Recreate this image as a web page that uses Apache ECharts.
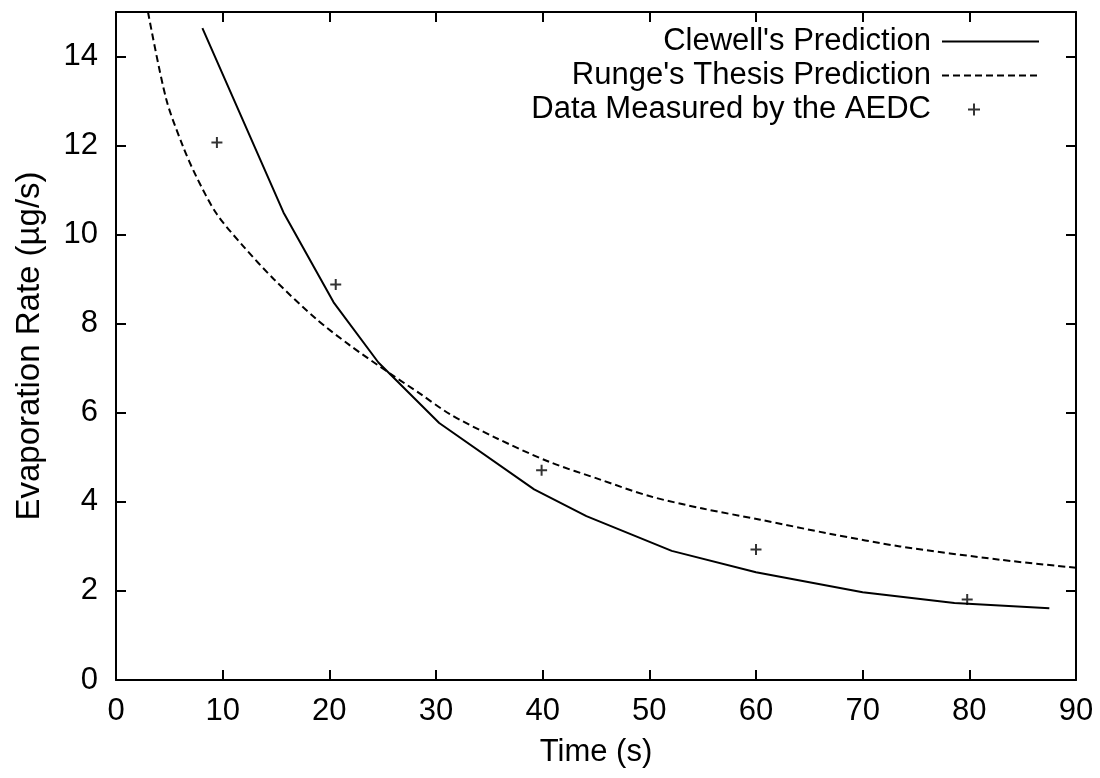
<!DOCTYPE html>
<html>
<head>
<meta charset="utf-8">
<script src="https://cdn.jsdelivr.net/npm/echarts@6/dist/echarts.min.js"></script>
<style>
html,body{margin:0;padding:0;background:#fff;}
#chart{width:1100px;height:778px;}
</style>
</head>
<body>
<div id="chart"></div>
<script>
// ---- data ----
const clewellName = "Clewell's Prediction";
const rungeName = "Runge's Thesis Prediction";
const aedcName = "Data Measured by the AEDC";

const clewellT = [8.1, 15.7, 20.4, 24.6, 30.3, 39.2, 44.1, 52.1, 60.0, 70.0, 78.6, 87.5];
const clewellRate = [14.64, 10.5, 8.48, 7.13, 5.77, 4.28, 3.68, 2.9, 2.42, 1.97, 1.73, 1.61];

const rungeT = [3.0, 4.7, 6.25, 7.5, 9.4, 11.9, 14.8, 18.8, 21.9, 25.7, 28.5, 31.3, 35.5, 40.6, 45.4, 50.0, 55.0, 60.4, 67.0, 73.5, 82.9, 90.0];
const rungeRate = [15.0, 13.05, 12.0, 11.32, 10.48, 9.75, 9.0, 8.1, 7.52, 6.88, 6.43, 5.97, 5.45, 4.9, 4.5, 4.13, 3.85, 3.6, 3.28, 3.0, 2.7, 2.52];

const aedcT = [9.46, 20.6, 39.9, 60.0, 79.8];
const aedcRate = [12.07, 8.88, 4.71, 2.93, 1.81];

const xTicks = {min: 0, max: 90, interval: 10};
const yTicks = {min: 0, max: 15, interval: 2};

// ---- chart ----
const zip = (a, b) => a.map((v, i) => [v, b[i]]);
const FONT = 'Liberation Sans, Arial, Helvetica, sans-serif';
const plusPath = 'path://M0,5L10,5M5,0L5,10';

const chart = echarts.init(document.getElementById('chart'), null, {renderer: 'canvas'});

const axisCommon = {
  axisLine: {show: true, onZero: false, lineStyle: {color: '#000', width: 2}},
  axisTick: {show: true, inside: true, length: 10, lineStyle: {color: '#000', width: 2}},
  splitLine: {show: false}
};

const legendBase = {
  orient: 'horizontal',
  align: 'right',
  padding: 0,
  itemGap: 0,
  selectedMode: false,
  textStyle: {fontFamily: FONT, fontSize: 31, color: '#000'}
};

chart.setOption({
  animation: false,
  backgroundColor: '#fff',
  grid: {left: 116, right: 24, top: 12, bottom: 98, containLabel: false},
  legend: [
    Object.assign({}, legendBase, {
      data: [clewellName], right: 60, top: 26, itemWidth: 97, itemHeight: 24,
      itemStyle: {color: 'rgba(0,0,0,0)', borderWidth: 0},
      textStyle: Object.assign({}, legendBase.textStyle, {padding: [0, 6, 0, 0]})
    }),
    Object.assign({}, legendBase, {
      data: [rungeName], right: 60, top: 60, itemWidth: 97, itemHeight: 24,
      itemStyle: {color: 'rgba(0,0,0,0)', borderWidth: 0},
      textStyle: Object.assign({}, legendBase.textStyle, {padding: [0, 6, 0, 0]})
    }),
    Object.assign({}, legendBase, {
      data: [{name: aedcName, icon: plusPath}], right: 119, top: 94, itemWidth: 12, itemHeight: 24,
      textStyle: Object.assign({}, legendBase.textStyle, {padding: [0, 32, 0, 0]})
    })
  ],
  xAxis: [
    Object.assign({}, axisCommon, {
      type: 'value', position: 'bottom', min: xTicks.min, max: xTicks.max, interval: xTicks.interval,
      name: 'Time (s)', nameLocation: 'middle', nameGap: 57,
      nameTextStyle: {fontFamily: FONT, fontSize: 31, color: '#000'},
      axisLabel: {fontFamily: FONT, fontSize: 31, color: '#000', margin: 16}
    }),
    Object.assign({}, axisCommon, {
      type: 'value', position: 'top', min: xTicks.min, max: xTicks.max, interval: xTicks.interval,
      axisLabel: {show: false}
    })
  ],
  yAxis: [
    Object.assign({}, axisCommon, {
      type: 'value', position: 'left', min: yTicks.min, max: yTicks.max, interval: yTicks.interval,
      name: 'Evaporation Rate (\u00b5g/s)', nameLocation: 'middle', nameGap: 70, nameRotate: 90,
      nameTextStyle: {fontFamily: FONT, fontSize: 33, color: '#000'},
      axisLabel: {fontFamily: FONT, fontSize: 31, color: '#000', margin: 18, showMaxLabel: false}
    }),
    Object.assign({}, axisCommon, {
      type: 'value', position: 'right', min: yTicks.min, max: yTicks.max, interval: yTicks.interval,
      axisLabel: {show: false}
    })
  ],
  series: [
    {
      name: clewellName, type: 'line', xAxisIndex: 0, yAxisIndex: 0,
      data: zip(clewellT, clewellRate), showSymbol: false, symbol: 'none', smooth: false,
      lineStyle: {color: '#000', width: 2}, itemStyle: {color: '#000'}
    },
    {
      name: rungeName, type: 'line', xAxisIndex: 0, yAxisIndex: 0,
      data: zip(rungeT, rungeRate), showSymbol: false, symbol: 'none', smooth: 0.3,
      lineStyle: {color: '#000', width: 2, type: [7, 4]}, itemStyle: {color: '#000'}
    },
    {
      name: aedcName, type: 'scatter', xAxisIndex: 0, yAxisIndex: 0,
      data: zip(aedcT, aedcRate), symbol: plusPath, symbolSize: 11,
      itemStyle: {color: 'rgba(0,0,0,0)', borderColor: '#000', borderWidth: 2}
    }
  ]
});
</script>
</body>
</html>
